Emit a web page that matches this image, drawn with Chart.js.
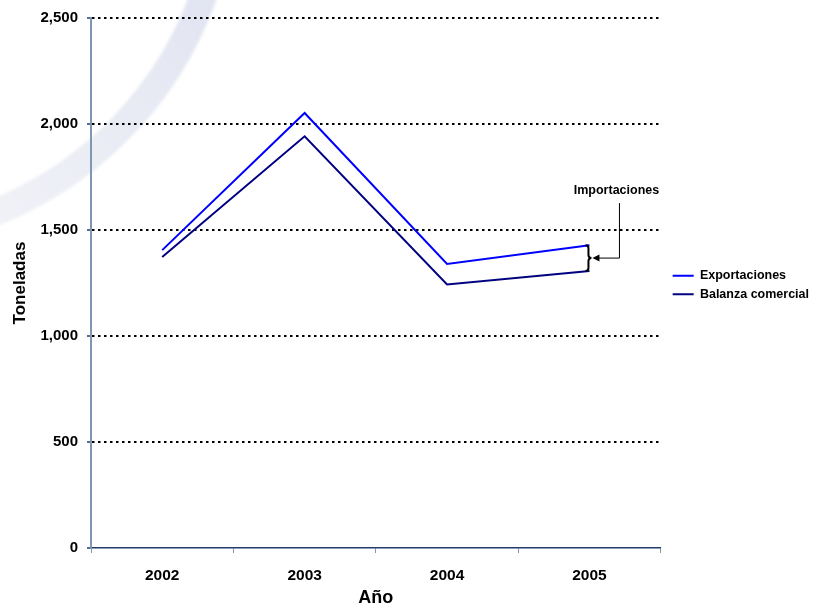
<!DOCTYPE html>
<html>
<head>
<meta charset="utf-8">
<script src="https://cdn.jsdelivr.net/npm/chart.js@4/dist/chart.umd.min.js"></script>
<style>
  html, body { margin: 0; padding: 0; background: #ffffff; }
  canvas { display: block; }
</style>
</head>
<body>
<canvas id="chart" width="813" height="609"></canvas>
<script>
// Tonnes per year
const years = ['2002', '2003', '2004', '2005'];
const exportaciones = [1405, 2052, 1340, 1428];
const balanzaComercial = [1373, 1942, 1243, 1307];
const yTicks = [0, 500, 1000, 1500, 2000, 2500];

const FONT = '"Liberation Sans", Arial, sans-serif';
const AXIS_SLATE = '#7f97b5';
const AXIS_NAVY = '#1f3c6c';

// Light decorative swoosh behind the plot, upper-left corner
const swoosh = {
  id: 'swoosh',
  beforeDraw(chart) {
    const ctx = chart.ctx;
    ctx.save();
    ctx.fillStyle = '#ffffff';
    ctx.fillRect(0, 0, chart.width, chart.height);
    const g = ctx.createLinearGradient(230, 0, 0, 240);
    g.addColorStop(0, '#e1e4f1');
    g.addColorStop(1, '#f1f2f7');
    ctx.filter = 'blur(1.5px)';
    ctx.strokeStyle = g;
    ctx.lineWidth = 27;
    ctx.beginPath();
    ctx.arc(-142, -128, 367, 0.15, 1.35);
    ctx.stroke();
    ctx.restore();
  }
};

// Brace + leader marking the gap between the two series in the last year
const importacionesNote = {
  id: 'importacionesNote',
  afterDatasetsDraw(chart) {
    const ctx = chart.ctx;
    const xs = chart.scales.x, ys = chart.scales.y;
    const i = years.length - 1;
    const px = xs.getPixelForValue(i);
    const yT = ys.getPixelForValue(exportaciones[i]);
    const yB = ys.getPixelForValue(balanzaComercial[i]);
    const yM = (yT + yB) / 2;
    ctx.save();
    ctx.strokeStyle = '#000';
    ctx.fillStyle = '#000';
    ctx.lineWidth = 2;
    ctx.beginPath();
    ctx.moveTo(px - 4, yT);
    ctx.quadraticCurveTo(px - 1, yT, px - 1, yT + 3);
    ctx.lineTo(px - 1, yM - 3);
    ctx.quadraticCurveTo(px - 1, yM, px + 2, yM);
    ctx.quadraticCurveTo(px - 1, yM, px - 1, yM + 3);
    ctx.lineTo(px - 1, yB - 3);
    ctx.quadraticCurveTo(px - 1, yB, px - 4, yB);
    ctx.stroke();

    const elbowX = px + 30;
    ctx.lineWidth = 1;
    ctx.beginPath();
    ctx.moveTo(px + 9, yM);
    ctx.lineTo(elbowX, yM);
    ctx.lineTo(elbowX, yM - 55);
    ctx.stroke();

    ctx.beginPath();
    ctx.moveTo(px + 3, yM);
    ctx.lineTo(px + 10, yM - 3.5);
    ctx.lineTo(px + 10, yM + 3.5);
    ctx.closePath();
    ctx.fill();

    ctx.font = 'bold 12.5px ' + FONT;
    ctx.textAlign = 'center';
    ctx.textBaseline = 'middle';
    ctx.fillText('Importaciones', elbowX - 3, yM - 68);
    ctx.restore();
  }
};

// Shift the legend a little away from the plot edge
const legendGap = {
  id: 'legendGap',
  afterLayout(chart) {
    const l = chart.legend;
    if (l) { l.left += 6; l.right += 6; l.top += 2; l.bottom += 2; }
  }
};

new Chart(document.getElementById('chart'), {
  type: 'line',
  data: {
    labels: years,
    datasets: [
      {
        label: 'Exportaciones',
        data: exportaciones,
        borderColor: '#0000ff',
        backgroundColor: '#0000ff',
        borderWidth: 2,
        pointRadius: 0,
        tension: 0
      },
      {
        label: 'Balanza comercial',
        data: balanzaComercial,
        borderColor: '#000080',
        backgroundColor: '#000080',
        borderWidth: 2,
        pointRadius: 0,
        tension: 0
      }
    ]
  },
  options: {
    responsive: false,
    animation: false,
    devicePixelRatio: 1,
    layout: { padding: { top: 18, left: 10, right: 0, bottom: 0 } },
    plugins: {
      legend: {
        position: 'right',
        align: 'center',
        fullSize: false,
        labels: {
          color: '#000',
          font: { family: FONT, size: 12.5, weight: 'bold' },
          usePointStyle: true,
          pointStyle: 'line',
          pointStyleWidth: 21,
          padding: 6
        }
      },
      tooltip: { enabled: false }
    },
    scales: {
      x: {
        offset: true,
        afterFit(s) { s.height = 61; },
        border: { display: true, color: AXIS_NAVY, width: 1.5 },
        grid: {
          offset: true,
          drawOnChartArea: false,
          drawTicks: true,
          tickLength: 5,
          tickColor: AXIS_SLATE,
          tickWidth: 1
        },
        ticks: {
          color: '#000',
          padding: 13,
          font: { family: FONT, size: 15.5, weight: 'bold' }
        },
        title: {
          display: true,
          text: 'Año',
          color: '#000',
          padding: { top: 0, bottom: 0 },
          font: { family: FONT, size: 18, weight: 'bold' }
        }
      },
      y: {
        min: yTicks[0],
        max: yTicks[yTicks.length - 1],
        afterFit(s) { s.width = 81; },
        afterBuildTicks(s) { s.ticks = yTicks.map(v => ({ value: v })); },
        border: { display: true, color: AXIS_SLATE, width: 2, dash: [2.5, 3.5] },
        grid: {
          color: c => (c.tick && c.tick.value === 0) ? 'rgba(0,0,0,0)' : '#000000',
          lineWidth: 2,
          drawTicks: true,
          tickLength: 4,
          tickColor: AXIS_NAVY,
          tickWidth: 1.5,
          tickBorderDash: []
        },
        ticks: {
          color: '#000',
          padding: 9,
          font: { family: FONT, size: 15, weight: 'bold' }
        },
        title: {
          display: true,
          text: 'Toneladas',
          color: '#000',
          padding: { top: 0, bottom: 0 },
          font: { family: FONT, size: 17, weight: 'bold' }
        }
      }
    }
  },
  plugins: [swoosh, importacionesNote, legendGap]
});
</script>
</body>
</html>
